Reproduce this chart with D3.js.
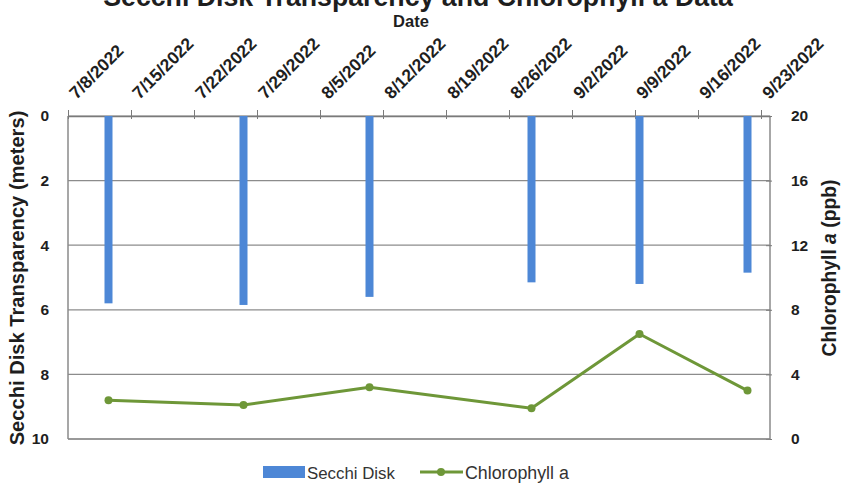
<!DOCTYPE html>
<html>
<head>
<meta charset="utf-8">
<script src="https://cdn.jsdelivr.net/npm/d3@7"></script>
<style>
  html, body { margin: 0; padding: 0; background: #fff; }
  svg { display: block; font-family: "Liberation Sans", Arial, sans-serif; }
</style>
</head>
<body>
<svg id="chart" width="842" height="483"></svg>
<script>
// ---- data ----
const sampleDates = ["2022-07-12", "2022-07-27", "2022-08-10", "2022-08-28", "2022-09-09", "2022-09-21"];
const secchiDepth = [5.8, 5.85, 5.6, 5.15, 5.2, 4.85];
const chlorophyll = [2.4, 2.1, 3.2, 1.9, 6.5, 3.0];
const tickDates = ["2022-07-08", "2022-07-15", "2022-07-22", "2022-07-29", "2022-08-05", "2022-08-12",
                   "2022-08-19", "2022-08-26", "2022-09-02", "2022-09-09", "2022-09-16", "2022-09-23"];
const leftTicks = [0, 2, 4, 6, 8, 10];
const rightTicks = [0, 4, 8, 12, 16, 20];
const domainStart = "2022-07-08";
const domainEnd = "2022-09-24";

const parse = d3.timeParse("%Y-%m-%d");
const fmt = d => `${d.getMonth() + 1}/${d.getDate()}/${d.getFullYear()}`;

const svg = d3.select("#chart");
const L = 68, R = 770, T = 116, B = 439;

const x = d3.scaleTime().domain([parse(domainStart), parse(domainEnd)]).range([L, R]);
const yL = d3.scaleLinear().domain([0, 10]).range([T, B]);
const yR = d3.scaleLinear().domain([0, 20]).range([B, T]);
const mid = d => d3.timeHour.offset(parse(d), 12);

const gridColor = "#8c8c8c";
const textColor = "#1e1e1e";

// gridlines
svg.append("g").selectAll("line").data(leftTicks).join("line")
  .attr("x1", L).attr("x2", R)
  .attr("y1", d => yL(d)).attr("y2", d => yL(d))
  .attr("stroke", gridColor).attr("stroke-width", 1.2);

// plot border
svg.append("line").attr("x1", L).attr("x2", L).attr("y1", T).attr("y2", B).attr("stroke", "#8a8a8a").attr("stroke-width", 1.5);
svg.append("line").attr("x1", R).attr("x2", R).attr("y1", T).attr("y2", B).attr("stroke", "#8a8a8a").attr("stroke-width", 1.5);

// top axis (date)
const topAxis = d3.axisTop(x).tickValues(tickDates.map(parse)).tickFormat(fmt).tickSizeInner(6).tickSizeOuter(0);
const gTop = svg.append("g").attr("transform", `translate(0,${T})`).call(topAxis);
gTop.select(".domain").attr("stroke", "#7a7a7a").attr("stroke-width", 1.5);
gTop.selectAll(".tick line").attr("stroke", "#7a7a7a").attr("y2", -6).attr("y1", 3);
gTop.selectAll(".tick text")
  .attr("font-size", 17.5).attr("font-weight", "bold").attr("fill", textColor)
  .attr("text-anchor", "start")
  .attr("y", 0).attr("dy", 0)
  .attr("transform", "translate(8,-16) rotate(-45)");

// left axis labels
const gLeft = svg.append("g").attr("transform", `translate(${L},0)`)
  .call(d3.axisLeft(yL).tickValues(leftTicks).tickSize(0).tickPadding(19));
gLeft.select(".domain").remove();
gLeft.selectAll(".tick text").attr("font-size", 15.5).attr("font-weight", "bold").attr("fill", textColor);

// right axis labels
const gRight = svg.append("g").attr("transform", `translate(${R},0)`)
  .call(d3.axisRight(yR).tickValues(rightTicks).tickSize(3).tickPadding(18));
gRight.select(".domain").remove();
gRight.selectAll(".tick line").attr("stroke", "#7a7a7a").attr("x1", -4).attr("x2", 2);
gRight.selectAll(".tick text").attr("font-size", 15.5).attr("font-weight", "bold").attr("fill", textColor);

// bars (Secchi depth, hanging from top)
const barW = 8;
const barColor = "#4d87d6";
svg.append("g").selectAll("rect").data(sampleDates).join("rect")
  .attr("x", d => x(mid(d)) - barW / 2)
  .attr("y", yL(0))
  .attr("width", barW)
  .attr("height", (d, i) => yL(secchiDepth[i]) - yL(0))
  .attr("fill", barColor);

// bottom border (over bars)
svg.append("line").attr("x1", L).attr("x2", R).attr("y1", B).attr("y2", B).attr("stroke", "#8a8a8a").attr("stroke-width", 1.5);

// chlorophyll line
const lineColor = "#6e9738";
const pts = sampleDates.map((d, i) => [x(mid(d)), yR(chlorophyll[i])]);
svg.append("path").datum(pts)
  .attr("d", d3.line())
  .attr("fill", "none").attr("stroke", lineColor).attr("stroke-width", 3).attr("stroke-linejoin", "round");
svg.append("g").selectAll("circle").data(pts).join("circle")
  .attr("cx", d => d[0]).attr("cy", d => d[1]).attr("r", 4).attr("fill", lineColor);

// fit helper
function fit(sel, target) {
  const len = sel.node().getComputedTextLength();
  const fs = parseFloat(sel.attr("font-size"));
  sel.attr("font-size", fs * target / len);
}

// title (clipped at top, as in the reference)
const title = svg.append("text").attr("x", 418).attr("y", 6).attr("text-anchor", "middle")
  .attr("font-size", 24).attr("font-weight", "bold").attr("fill", textColor)
  .text("Secchi Disk Transparency and Chlorophyll a Data");
fit(title, 630);

// x axis title
svg.append("text").attr("x", 411).attr("y", 27).attr("text-anchor", "middle")
  .attr("font-size", 16.5).attr("font-weight", "bold").attr("fill", textColor).text("Date");

// left axis title
const lt = svg.append("text").attr("transform", "translate(24,278) rotate(-90)").attr("text-anchor", "middle")
  .attr("font-size", 17).attr("font-weight", "bold").attr("fill", textColor)
  .text("Secchi Disk Transparency (meters)");
fit(lt, 335);

// right axis title
const rt = svg.append("text").attr("transform", "translate(836,268) rotate(-90)").attr("text-anchor", "middle")
  .attr("font-size", 16).attr("font-weight", "bold").attr("fill", textColor);
rt.append("tspan").text("Chlorophyll ");
rt.append("tspan").attr("font-style", "italic").text("a");
rt.append("tspan").text(" (ppb)");
{
  const len = rt.node().getComputedTextLength();
  rt.attr("font-size", 16 * 177 / len);
}

// legend
const lg = svg.append("g");
lg.append("rect").attr("x", 263).attr("y", 466).attr("width", 42).attr("height", 12).attr("fill", barColor);
const l1 = lg.append("text").attr("x", 307).attr("y", 479).attr("font-size", 15).attr("fill", "#333").text("Secchi Disk");
fit(l1, 88);
lg.append("line").attr("x1", 420).attr("x2", 463).attr("y1", 472).attr("y2", 472).attr("stroke", lineColor).attr("stroke-width", 3);
lg.append("circle").attr("cx", 441).attr("cy", 472).attr("r", 4).attr("fill", lineColor);
const l2 = lg.append("text").attr("x", 465).attr("y", 479).attr("font-size", 15).attr("fill", "#333").text("Chlorophyll a");
fit(l2, 104);
</script>
</body>
</html>
